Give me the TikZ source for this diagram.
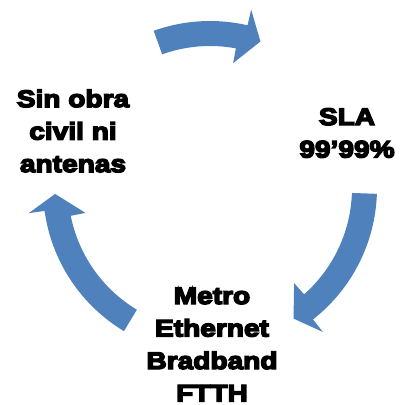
\documentclass[tikz,border=0pt]{standalone}
\usepackage{fontspec}
\newfontfamily\heavy{Liberation Sans Bold}[FakeBold=6, FakeStretch=1.17]
\definecolor{arrowblue}{RGB}{79,129,189}
\tikzset{
  cyclelabel/.style={font=\heavy\fontsize{24}{32.5}\selectfont, align=center, inner sep=0pt, text=black},
  cyclearrow/.style={fill=arrowblue, draw=none}
}
% #1 tail angle, #2 outer head-base angle, #3 inner head-base angle, #4 tip angle
\newcommand\cyclearrowpath[4]{%
  \path[cyclearrow] (#1:167) arc[start angle=#1, end angle=#2, radius=167]
    -- (#2:183) -- (#4:155) -- (#3:127) -- (#3:142)
    arc[start angle=#3, end angle=#1, radius=142] -- cycle;}
\begin{document}
\begin{tikzpicture}[x=1pt,y=1pt]
  \path[use as bounding box] (-210,-217) rectangle (193,188);
  \cyclearrowpath{109.7}{77}{79.5}{71}
  \cyclearrowpath{-2}{-51.9}{-48.5}{-57.4}
  \cyclearrowpath{239}{187.9}{191.3}{182.2}
  \node[cyclelabel] (sla) at (137,55) {SLA\\99’99\%};
  \node[cyclelabel] (metro) at (2,-156.5) {Metro\\Ethernet\\Bradband\\FTTH};
  \node[cyclelabel] (sin) at (-137,57) {Sin obra\\civil ni\\antenas};
\end{tikzpicture}
\end{document}
